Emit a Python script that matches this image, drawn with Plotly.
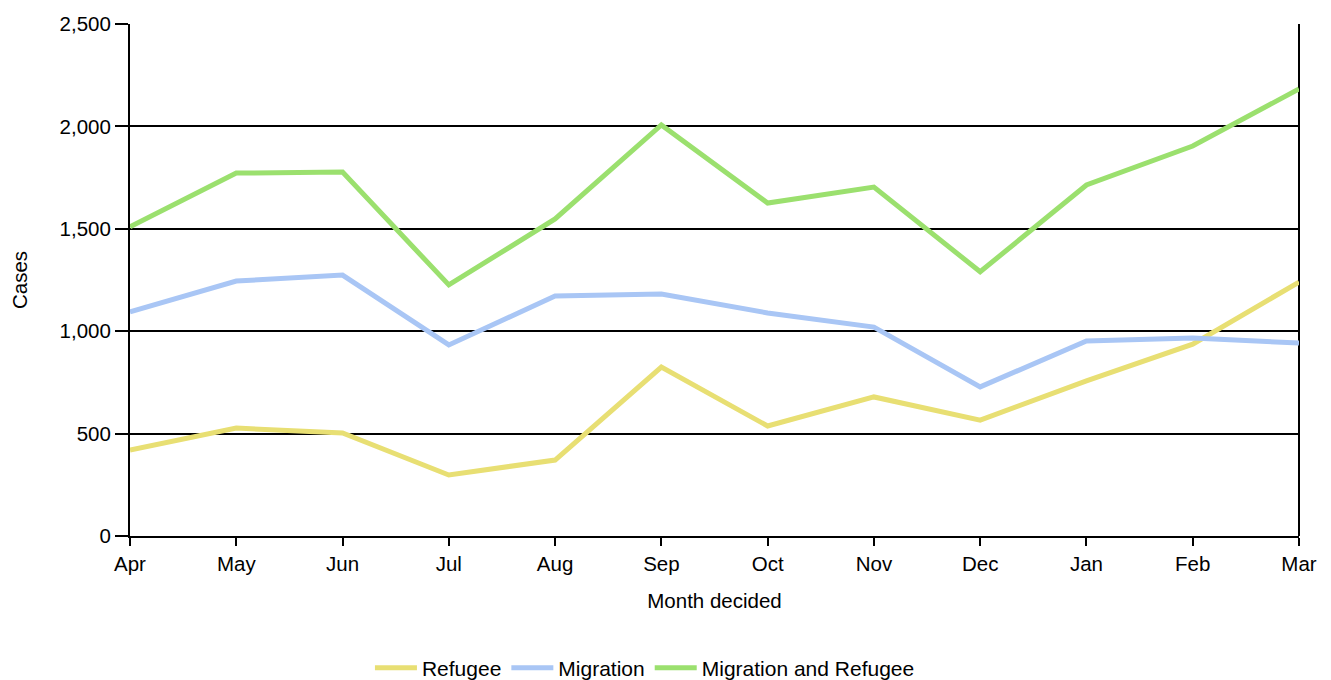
import plotly.graph_objects as go

months = ["Apr", "May", "Jun", "Jul", "Aug", "Sep", "Oct", "Nov", "Dec", "Jan", "Feb", "Mar"]
refugee = [420, 527, 503, 298, 371, 825, 537, 679, 566, 757, 937, 1240]
migration = [1094, 1245, 1274, 933, 1172, 1182, 1089, 1020, 728, 952, 967, 942]
mig_and_ref = [1510, 1772, 1777, 1226, 1548, 2007, 1626, 1704, 1290, 1714, 1904, 2183]

y_ticks = [0, 500, 1000, 1500, 2000, 2500]

fig = go.Figure()
fig.add_trace(go.Scatter(x=months, y=refugee, mode="lines", name="Refugee",
                         line=dict(color="#E8DF73", width=5)))
fig.add_trace(go.Scatter(x=months, y=migration, mode="lines", name="Migration",
                         line=dict(color="#A9C6F5", width=5)))
fig.add_trace(go.Scatter(x=months, y=mig_and_ref, mode="lines", name="Migration and Refugee",
                         line=dict(color="#9BE06E", width=5)))

font = dict(family="Liberation Sans, Arial, sans-serif", size=20.5, color="#000000")
legend_font = dict(family="Liberation Sans, Arial, sans-serif", size=21, color="#000000")

fig.update_layout(
    width=1331, height=680,
    margin=dict(l=122, r=40, t=16, b=152, autoexpand=False),
    paper_bgcolor="white", plot_bgcolor="white",
    font=font,
    showlegend=True,
    legend=dict(orientation="h", x=0.4405, xanchor="center", y=-0.2578, yanchor="middle",
                font=legend_font, traceorder="normal", itemwidth=42),
    xaxis=dict(
        type="category", range=[0, 11], automargin=False,
        title=dict(text="Month decided", font=font, standoff=20),
        showline=True, linecolor="black", linewidth=2, mirror=False,
        ticks="outside", ticklen=8, tickwidth=2, tickcolor="black",
        showgrid=False, zeroline=False, tickfont=font,
    ),
    yaxis=dict(
        range=[0, 2500], tickvals=y_ticks, tickformat=",", automargin=False,
        title=dict(text="Cases", font=font, standoff=32),
        showline=True, linecolor="black", linewidth=2, mirror=False,
        ticks="outside", ticklen=13, tickwidth=2, tickcolor="black",
        showgrid=True, gridcolor="black", gridwidth=2, zeroline=False,
        tickfont=font,
    ),
)

# right border line at Mar
fig.add_shape(type="line", xref="paper", yref="paper", x0=1, x1=1, y0=0, y1=1,
              line=dict(color="black", width=2), layer="below")

fig.write_html("out.html")
